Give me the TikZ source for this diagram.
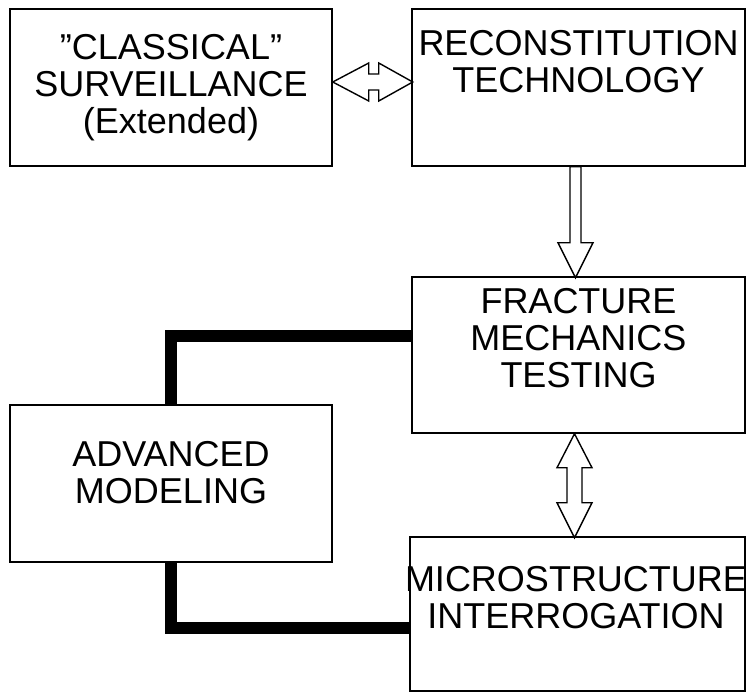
\documentclass[tikz,border=0pt]{standalone}
\usepackage{fontspec}
\setmainfont{Liberation Sans}
\usetikzlibrary{calc}

\tikzset{
  box/.style={draw, line width=1.5pt, minimum width=#1, minimum height=157pt, inner sep=0pt},
  lbl/.style={align=center, inner sep=0pt, font=\fontsize{36}{37}\selectfont},
  blockarrow/.style={draw, line width=1.4pt, fill=white, line join=miter},
  link/.style={line width=12pt, line join=miter}
}

\begin{document}
\begin{tikzpicture}[x=1pt,y=-1pt]
\useasboundingbox (0,0) rectangle (748,693);

\node[box=322pt] (classical) at (171,87.5) {};
\node[box=333pt] (recon) at (578.5,87.5) {};
\node[box=333pt, minimum height=156pt] (fracture) at (578.5,355) {};
\node[box=322pt] (advanced) at (171,483.5) {};
\node[box=335pt, minimum height=154pt] (micro) at (577.5,614) {};

\node[lbl] (classicaltxt) at (classical.center) {''CLASSICAL''\\SURVEILLANCE\\(Extended)};
\node[lbl] (recontxt) at ([yshift=25.5pt]recon.center) {RECONSTITUTION\\TECHNOLOGY};
\node[lbl] (fracturetxt) at ([yshift=17pt]fracture.center) {FRACTURE\\MECHANICS\\TESTING};
\node[lbl] (advancedtxt) at ([yshift=10.5pt]advanced.center) {ADVANCED\\MODELING};
\node[lbl] (microtxt) at ([xshift=-1.5pt,yshift=16pt]micro.center) {MICROSTRUCTURE\\INTERROGATION};

% hollow arrows
\draw[blockarrow] ([yshift=5.5pt]classical.east) -- ++(36,-19) -- ++(0,11) -- ++(10,0) -- ++(0,-11)
  -- ++(34,19) -- ++(-34,19) -- ++(0,-11) -- ++(-10,0) -- ++(0,11) -- cycle;
\draw[blockarrow] ([xshift=-8.5pt]recon.south) -- ++(11,0) -- ++(0,76) -- ++(12,0)
  -- ++(-17.5,35) -- ++(-17.5,-35) -- ++(12,0) -- cycle;
\draw[blockarrow] ([xshift=-4pt]fracture.south) -- ++(17.5,34) -- ++(-10,0) -- ++(0,35) -- ++(10,0)
  -- ++(-17.5,35) -- ++(-17.5,-35) -- ++(10,0) -- ++(0,-35) -- ++(-10,0) -- cycle;

% thick links
\draw[link] ([yshift=19pt]fracture.west) -| (advanced.north);
\draw[link] (advanced.south) |- ([yshift=-14pt]micro.west);
\end{tikzpicture}
\end{document}
